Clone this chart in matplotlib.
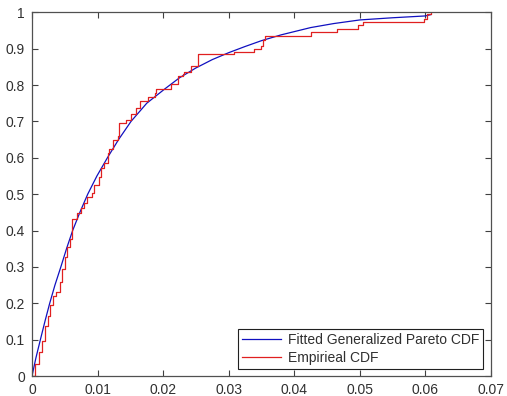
import numpy as np
import matplotlib.pyplot as plt

plt.rcParams['font.family'] = ['Liberation Sans', 'DejaVu Sans']

# fitted generalized pareto cdf
fit_x = [0.0, 0.0006, 0.00128, 0.002, 0.0027, 0.0035, 0.0044, 0.0053, 0.0062,
         0.0073, 0.0085, 0.0099, 0.0115, 0.0132, 0.0151, 0.0175, 0.0203, 0.0225,
         0.025, 0.0275, 0.03, 0.0325, 0.035, 0.038, 0.0425, 0.046, 0.05, 0.055,
         0.06, 0.0609]
fit_y = [0.0, 0.05, 0.1, 0.152, 0.2, 0.25, 0.3, 0.352, 0.4,
         0.45, 0.5, 0.55, 0.6, 0.65, 0.7, 0.75, 0.79, 0.82,
         0.847, 0.87, 0.889, 0.906, 0.922, 0.938, 0.958, 0.969, 0.979, 0.985,
         0.99, 0.994]

# empirical cdf steps (x where the step happens, level after it)
ecdf_x = [0.0, 0.0005, 0.00113, 0.00154, 0.00205, 0.00246, 0.00282, 0.00318,
          0.00359, 0.0042, 0.00462, 0.00503, 0.00538, 0.00574, 0.00605, 0.00692,
          0.00744, 0.00795, 0.00846, 0.00913, 0.00949, 0.01026, 0.01051, 0.01103,
          0.01154, 0.01179, 0.01231, 0.01308, 0.01333, 0.01436, 0.01513, 0.0158,
          0.01651, 0.01769, 0.01872, 0.01897, 0.0212, 0.0222, 0.023, 0.0232,
          0.0242, 0.0253, 0.0308, 0.0339, 0.0349, 0.0352, 0.0355, 0.0425,
          0.0465, 0.0497, 0.0505, 0.0598, 0.0602, 0.0609]
ecdf_y = [0.0, 0.032, 0.065, 0.097, 0.138, 0.166, 0.194, 0.221,
          0.23, 0.258, 0.295, 0.327, 0.355, 0.378, 0.433, 0.447,
          0.461, 0.475, 0.493, 0.502, 0.525, 0.548, 0.571, 0.585,
          0.613, 0.625, 0.65, 0.659, 0.696, 0.705, 0.719, 0.737,
          0.756, 0.767, 0.779, 0.79, 0.802, 0.825, 0.829, 0.835,
          0.853, 0.884, 0.891, 0.898, 0.907, 0.923, 0.935, 0.947,
          0.955, 0.964, 0.973, 0.982, 0.994, 1.0]

xticks = [0, 0.01, 0.02, 0.03, 0.04, 0.05, 0.06, 0.07]
yticks = [0, 0.1, 0.2, 0.3, 0.4, 0.5, 0.6, 0.7, 0.8, 0.9, 1]

fig = plt.figure(figsize=(5.07, 3.96), dpi=100)
ax = fig.add_axes([32/507, 1-376/396, 459/507, 363.7/396])

ax.plot(fit_x, fit_y, color='#1010c0', lw=0.9, label='Fitted Generalized Pareto CDF')
ax.step(ecdf_x, ecdf_y, where='post', color='#e02020', lw=0.9, label='Empirieal CDF')

ax.set_xlim(0, 0.07)
ax.set_ylim(0, 1)
ax.set_xticks(xticks)
ax.set_xticklabels(['0', '0.01', '0.02', '0.03', '0.04', '0.05', '0.06', '0.07'])
ax.set_yticks(yticks)
ax.set_yticklabels(['0', '0.1', '0.2', '0.3', '0.4', '0.5', '0.6', '0.7', '0.8', '0.9', '1'])
ax.tick_params(direction='in', length=4, width=0.8, colors='#404040',
               labelcolor='#303030', labelsize=10, pad=5,
               top=True, right=True)
for s in ax.spines.values():
    s.set_color('#505050')
    s.set_linewidth(0.9)

leg = ax.legend(loc='lower right', bbox_to_anchor=(0.983, 0.018), borderaxespad=0,
                fontsize=10, fancybox=False, framealpha=1, edgecolor='#202020',
                handlelength=2.8, handletextpad=0.5, labelspacing=0.3,
                borderpad=0.3)
leg.get_frame().set_linewidth(0.8)
for t in leg.get_texts():
    t.set_color('#303030')

fig.savefig('out.png', dpi=100)
